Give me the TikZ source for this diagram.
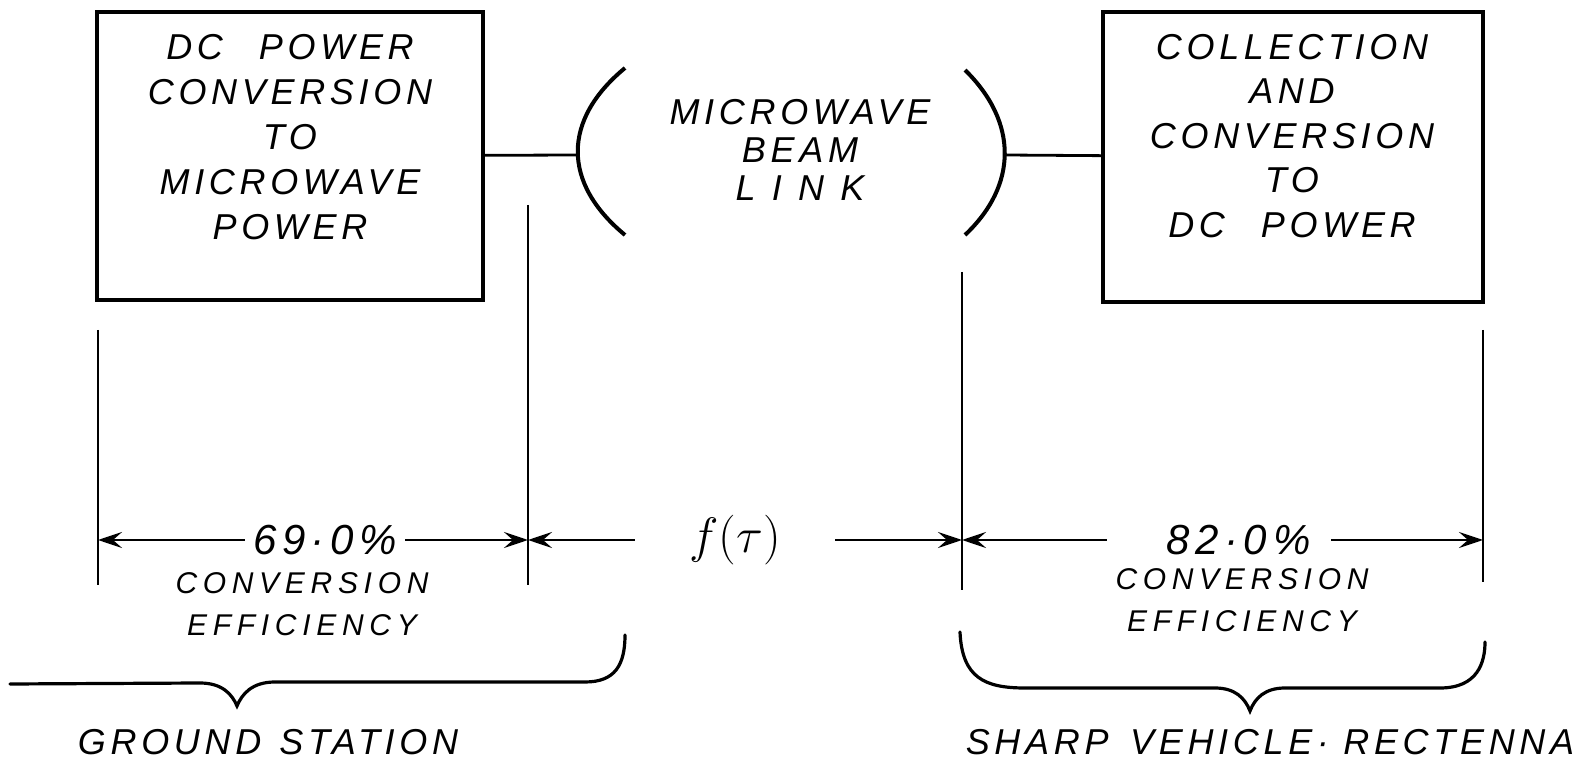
\documentclass[tikz,border=0pt]{standalone}
\usepackage{fontspec}
\setmainfont{Liberation Sans}
\newfontfamily\handfont{Liberation Sans}[LetterSpace=13]
\newfontfamily\efffont{Liberation Sans}[LetterSpace=19]
\usetikzlibrary{arrows.meta}
\begin{document}
\begin{tikzpicture}[x=0.5pt, y=-0.5pt,
    blockbox/.style={draw, line width=1.6pt, minimum width=193pt, minimum height=144pt, inner sep=0pt},
    boxtext/.style={align=center, font=\handfont\itshape\fontsize{18}{22.5}\selectfont},
    beamtext/.style={align=center, font=\handfont\itshape\fontsize{18}{19}\selectfont},
    pcttext/.style={font=\handfont\itshape\fontsize{21}{21}\selectfont},
    efftext/.style={align=center, font=\efffont\itshape\fontsize{15}{21}\selectfont},
    parttext/.style={font=\handfont\itshape\fontsize{18}{18}\selectfont},
    paren/.style={line width=2pt},
    link/.style={line width=1.4pt},
    extline/.style={line width=1.4pt},
    dimline/.style={line width=1.4pt, -{Stealth[length=12pt,width=8pt,inset=4.5pt]}},
    brace/.style={line width=1.6pt, line cap=round}]
  \useasboundingbox (0,0) rectangle (1576,764);
  % conversion blocks
  \node[blockbox] (gs) at (290,156) {};
  \node[boxtext] (gstext) at (290,137) {DC\hspace{1em}POWER\\CONVERSION\\TO\\MICROWAVE\\POWER};
  \node[blockbox, minimum width=190pt, minimum height=145pt] (rc) at (1293,157) {};
  \node[boxtext, font=\handfont\itshape\fontsize{18}{22.2}\selectfont] (rctext) at (1292,136) {COLLECTION\\AND\\CONVERSION\\TO\\DC\hspace{1em}POWER};
  % beam link in brackets
  \node[beamtext] (beam) at (800,150) {MICROWAVE\\BEAM\\{\addfontfeatures{LetterSpace=45}LINK}};
  \coordinate (lpl) at (578,155);
  \coordinate (rpr) at (1005,155);
  \draw[paren] (625,68) .. controls (562,120) and (562,183) .. (625,235);
  \draw[paren] (965,70) .. controls (1018,122) and (1018,185) .. (965,235);
  \draw[link] (gs) -- (lpl);
  \draw[link] (rpr) -- (rc);
  % extension lines
  \draw[extline] (98,330) -- (98,585);
  \draw[extline] (528,205) -- (528,585);
  \draw[extline] (962,272) -- (962,590);
  \draw[extline] (1483,330) -- (1483,582);
  \coordinate (d1) at (98,540);
  \coordinate (d2) at (528,540);
  \coordinate (d3) at (962,540);
  \coordinate (d4) at (1483,540);
  % dimensions
  \node[pcttext, inner xsep=4pt] (pct1) at (325,540) {69·0\%};
  \node[font=\fontsize{24}{24}\selectfont, inner xsep=27pt] (ftau) at (735,540) {$f(\tau)$};
  \node[pcttext, inner xsep=10pt] (pct2) at (1239,540) {82·0\hspace{0.15em}\%};
  \draw[dimline] (pct1) -- (d1);
  \draw[dimline] (pct1) -- (d2);
  \draw[dimline] (ftau) -- (d2);
  \draw[dimline] (ftau) -- (d3);
  \draw[dimline, shorten <=20pt] (pct2) -- (d3);
  \draw[dimline] (pct2) -- (d4);
  \node[efftext] (eff1) at (302,604) {CONVERSION\\EFFICIENCY};
  \node[efftext] (eff2) at (1242,600) {CONVERSION\\EFFICIENCY};
  % braces
  \draw[brace] (10,684) -- (200,683) .. controls (222,683) and (232,694) .. (237,706)
    .. controls (242,694) and (252,682) .. (275,682) -- (585,682)
    .. controls (615,682) and (625,665) .. (625,635);
  \draw[brace] (960,632) .. controls (962,678) and (985,688) .. (1025,688) -- (1215,688)
    .. controls (1235,688) and (1245,698) .. (1250,711)
    .. controls (1255,698) and (1265,688) .. (1285,688) -- (1440,688)
    .. controls (1478,688) and (1485,662) .. (1485,642);
  \node[parttext] (ground) at (268,742) {GROUND\hspace{0.5em}STATION};
  \node[parttext] (vehicle) at (1270,742) {SHARP\hspace{0.6em}VEHICLE·\hspace{0.4em}RECTENNA};
\end{tikzpicture}
\end{document}
